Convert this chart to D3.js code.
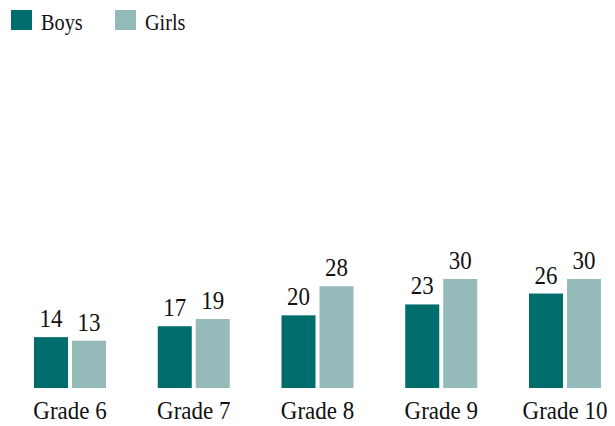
<!DOCTYPE html>
<html><head><meta charset="utf-8">
<script src="https://cdn.jsdelivr.net/npm/d3@7"></script>
<style>body{margin:0;background:#fff}svg{display:block}</style>
</head><body>
<svg id="c" width="615" height="426"></svg>
<script>
const categories = ["Grade 6","Grade 7","Grade 8","Grade 9","Grade 10"];
const seriesNames = ["Boys","Girls"];
const boys = [14,17,20,23,26];
const girls = [13,19,28,30,30];
const colors = {Boys:"#006d6d", Girls:"#95baba"};
const FONT = '"Liberation Serif"';

const svg = d3.select("#c");
const x0 = d3.scaleBand().domain(categories).range([8.125, 626.875]).paddingInner(0.418).paddingOuter(0.209);
const x1 = d3.scaleBand().domain(seriesNames).range([0, x0.bandwidth()]).paddingInner(0.10526);
const y = d3.scaleLinear().domain([0,30]).range([388,279]);

function condense(sel){
  sel.each(function(){
    const w = this.getComputedTextLength();
    d3.select(this).attr("textLength", w*0.9).attr("lengthAdjust","spacingAndGlyphs");
  });
}

const data = categories.map((c,i)=>({cat:c, vals:[{s:"Boys",v:boys[i]},{s:"Girls",v:girls[i]}]}));
const g = svg.selectAll("g.grp").data(data).join("g").attr("class","grp")
  .attr("transform",d=>`translate(${x0(d.cat)},0)`);
g.selectAll("rect").data(d=>d.vals).join("rect")
  .attr("x",d=>x1(d.s)).attr("width",x1.bandwidth())
  .attr("y",d=>y(d.v)).attr("height",d=>y(0)-y(d.v))
  .attr("fill",d=>colors[d.s]);
g.selectAll("text.val").data(d=>d.vals).join("text").attr("class","val")
  .attr("x",d=>x1(d.s)+x1.bandwidth()/2).attr("y",d=>y(d.v)-10)
  .attr("text-anchor","middle")
  .style("font-family",FONT).style("font-size","25.5px").style("fill","#111")
  .text(d=>d.v).call(condense);

const xAxis = d3.axisBottom(x0).tickSize(0).tickPadding(0);
const ax = svg.append("g").attr("transform","translate(0,388)").call(xAxis);
ax.attr("font-family",null).attr("font-size",null);
ax.select(".domain").remove();
ax.selectAll("text").attr("dy",null).attr("y",31)
  .style("font-family",FONT).style("font-size","25.5px").style("fill","#111").call(condense);

const leg = svg.append("g");
const lx = [11,115];
seriesNames.forEach((s,i)=>{
  leg.append("rect").attr("x",lx[i]).attr("y",10).attr("width",21).attr("height",20).attr("fill",colors[s]);
  leg.append("text").attr("x",lx[i]+30).attr("y",30)
    .style("font-family",FONT).style("font-size","22.5px").style("fill","#111").text(s).call(condense);
});
</script>
</body></html>
